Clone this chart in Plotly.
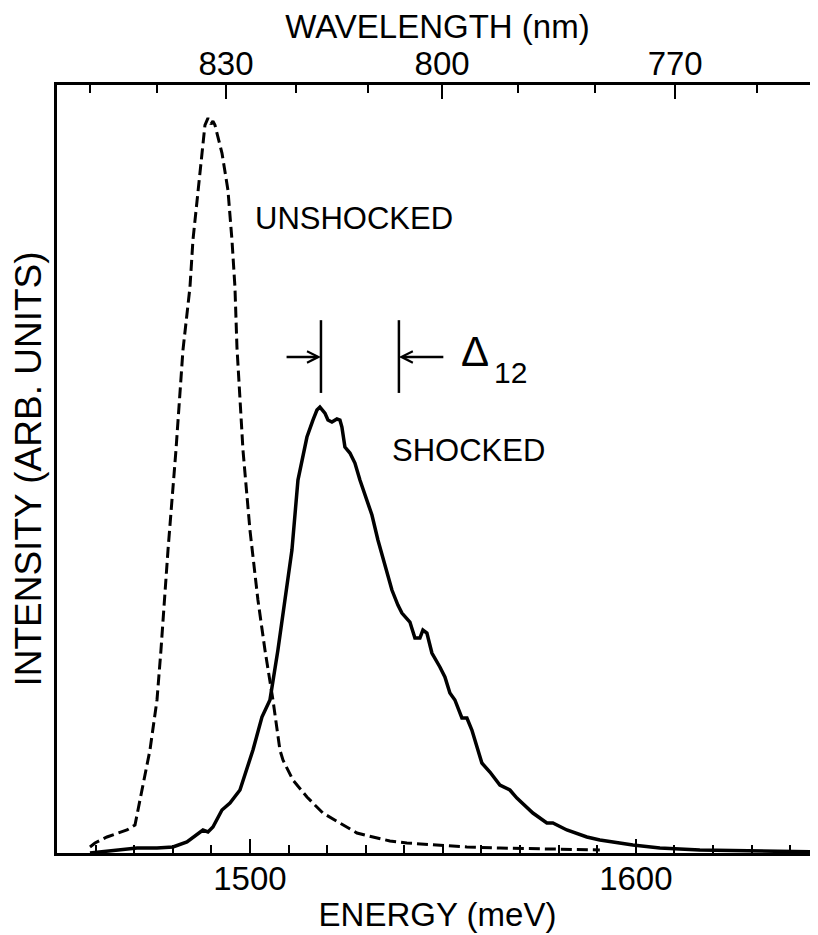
import plotly.graph_objects as go

# ---------------- data ----------------
unshocked_energy = [1458.55, 1459.84, 1462.95, 1468.13, 1470.21, 1471.50, 1474.09, 1475.91, 1476.94,
                    1478.76, 1480.83, 1482.64, 1483.16, 1484.46, 1485.23, 1486.53, 1487.56, 1488.34,
                    1489.12, 1489.90, 1490.41, 1490.93, 1492.75, 1494.30, 1495.34, 1496.11, 1496.63,
                    1498.19, 1500.00, 1502.07, 1503.89, 1505.96, 1507.77, 1508.55, 1511.14, 1514.77,
                    1518.91, 1523.32, 1527.72, 1531.87, 1536.27, 1540.67, 1547.41, 1556.22, 1564.77,
                    1575.13, 1590.67]
unshocked_intensity = [0.82, 1.36, 2.18, 3.13, 3.81, 7.21, 14.01, 20.82, 27.62,
                       41.22, 54.83, 68.44, 70.75, 77.01, 83.40, 90.20, 95.65, 99.05,
                       100.0, 99.18, 99.59, 99.05, 95.24, 90.20, 83.40, 77.01, 68.84,
                       54.83, 43.95, 34.42, 27.62, 20.82, 14.01, 12.65, 9.93, 7.62,
                       5.44, 4.08, 2.72, 2.18, 1.63, 1.36, 1.09, 0.82, 0.68,
                       0.54, 0.41]

shocked_energy = [1458.55, 1462.95, 1470.73, 1475.91, 1480.05, 1483.68, 1486.27, 1487.82, 1489.12,
                  1490.41, 1492.75, 1494.82, 1497.41, 1499.22, 1500.78, 1503.11, 1505.18, 1507.25,
                  1509.07, 1510.88, 1512.44, 1513.47, 1514.77, 1516.32, 1517.36, 1518.13, 1519.43,
                  1520.21, 1521.24, 1522.54, 1523.32, 1523.83, 1524.61, 1525.91, 1527.20, 1528.50,
                  1529.79, 1531.61, 1533.16, 1534.97, 1536.79, 1538.34, 1539.38, 1541.45, 1542.75,
                  1544.04, 1544.82, 1545.85, 1547.15, 1549.22, 1550.52, 1551.81, 1553.11, 1554.92,
                  1556.22, 1557.51, 1560.10, 1562.18, 1564.77, 1567.36, 1569.17, 1573.32, 1576.94,
                  1578.50, 1582.12, 1587.31, 1590.67, 1599.22, 1606.22, 1616.58, 1632.12, 1647.15]
shocked_intensity = [0.0, 0.27, 0.68, 0.68, 0.82, 1.50, 2.45, 3.13, 2.86,
                     3.54, 5.85, 6.80, 8.57, 11.70, 14.01, 18.50, 20.82, 27.62,
                     34.42, 41.22, 50.75, 53.47, 56.60, 58.91, 60.27, 60.68, 59.86,
                     58.91, 58.64, 59.05, 58.91, 57.96, 55.24, 54.42, 53.06, 50.75,
                     48.71, 45.99, 42.59, 39.18, 35.78, 33.74, 32.65, 31.43, 29.25,
                     29.25, 30.34, 29.93, 27.21, 25.31, 23.95, 21.77, 20.82, 18.37,
                     18.37, 16.73, 12.24, 11.02, 9.25, 8.57, 7.48, 5.44, 4.08,
                     4.08, 3.13, 2.18, 1.77, 1.09, 0.68, 0.41, 0.27, 0.14]

energy_range = [1450, 1647.2]
intensity_range = [0, 104.5]
energy_ticks = [1500, 1600]
wavelength_major = [830, 800, 770]
wavelength_minor = [850, 840, 820, 810, 790, 780, 760]

# Δ12 marker positions (meV)
delta_lines = [1518.4, 1538.6]

HC = 1239841.98  # meV * nm

FONT = "Liberation Sans"
fig = go.Figure()

fig.add_trace(go.Scatter(x=unshocked_energy, y=unshocked_intensity, mode="lines",
                         line=dict(color="black", width=3, dash="11px,5px"), showlegend=False))
fig.add_trace(go.Scatter(x=shocked_energy, y=shocked_intensity, mode="lines",
                         line=dict(color="black", width=3.5), showlegend=False))
# empty trace so that the top (wavelength) axis is drawn
fig.add_trace(go.Scatter(x=energy_range, y=[None, None], xaxis="x2", mode="lines",
                         showlegend=False, hoverinfo="skip"))

# vertical marker lines
for e in delta_lines:
    fig.add_shape(type="line", x0=e, x1=e, y0=62.6, y1=72.5, xref="x", yref="y",
                  line=dict(color="black", width=2.5))

# arrows
fig.add_annotation(x=delta_lines[0], y=67.5, ax=1509.1, ay=67.5, axref="x", ayref="y",
                   xref="x", yref="y", showarrow=True, arrowhead=5, arrowsize=0.9,
                   arrowwidth=2.5, arrowcolor="black", text="", standoff=0)
fig.add_annotation(x=delta_lines[1], y=67.5, ax=1550.5, ay=67.5, axref="x", ayref="y",
                   xref="x", yref="y", showarrow=True, arrowhead=5, arrowsize=0.9,
                   arrowwidth=2.5, arrowcolor="black", text="", standoff=0)

fig.add_annotation(x=1558.3, y=68.3, text="Δ", showarrow=False, xref="x", yref="y",
                   font=dict(family=FONT, size=42, color="black"))
fig.add_annotation(x=1567.6, y=65.4, text="12", showarrow=False, xref="x", yref="y",
                   font=dict(family=FONT, size=30, color="black"))

fig.add_annotation(x=1500.8, y=86.4, text="UNSHOCKED", showarrow=False, xanchor="left",
                   xref="x", yref="y", font=dict(family=FONT, size=31, color="black"))
fig.add_annotation(x=1536.3, y=54.8, text="SHOCKED", showarrow=False, xanchor="left",
                   xref="x", yref="y", font=dict(family=FONT, size=31, color="black"))

# the page body adds an 8 px offset; the figure is sized to fill the rest of the window
fig.update_layout(
    width=810, height=927,
    margin=dict(l=49, r=0, t=77, b=82, autoexpand=False),
    paper_bgcolor="white", plot_bgcolor="white",
    font=dict(family=FONT, size=33, color="black"),
    xaxis=dict(
        range=energy_range, showgrid=False, zeroline=False, automargin=False,
        showline=True, linecolor="black", linewidth=3, mirror=False,
        tickmode="array", tickvals=energy_ticks, ticks="inside", ticklen=14,
        tickwidth=2, tickcolor="black", ticklabelstandoff=-6,
        minor=dict(dtick=10, tick0=1500, ticks="inside", ticklen=8, tickwidth=2,
                   tickcolor="black", showgrid=False),
        tickfont=dict(size=33), title=dict(text="ENERGY (meV)", font=dict(size=33), standoff=8),
    ),
    xaxis2=dict(
        overlaying="x", side="top", matches="x", range=energy_range, automargin=False,
        showgrid=False, zeroline=False,
        showline=True, linecolor="black", linewidth=3,
        tickmode="array", tickvals=[HC / w for w in wavelength_major],
        ticktext=[str(w) for w in wavelength_major],
        ticks="inside", ticklen=14, tickwidth=2, tickcolor="black", ticklabelstandoff=-6,
        minor=dict(tickvals=[HC / w for w in wavelength_minor], ticks="inside", ticklen=8,
                   tickwidth=2, tickcolor="black", showgrid=False),
        tickfont=dict(size=33), title=dict(text="WAVELENGTH (nm)", font=dict(size=33), standoff=0),
    ),
    yaxis=dict(
        range=intensity_range, showgrid=False, zeroline=False, automargin=False,
        showline=True, linecolor="black", linewidth=3,
        showticklabels=False, ticks="",
        title=dict(text="INTENSITY (ARB. UNITS)", font=dict(size=37), standoff=6),
    ),
)

fig.write_html("out.html")
